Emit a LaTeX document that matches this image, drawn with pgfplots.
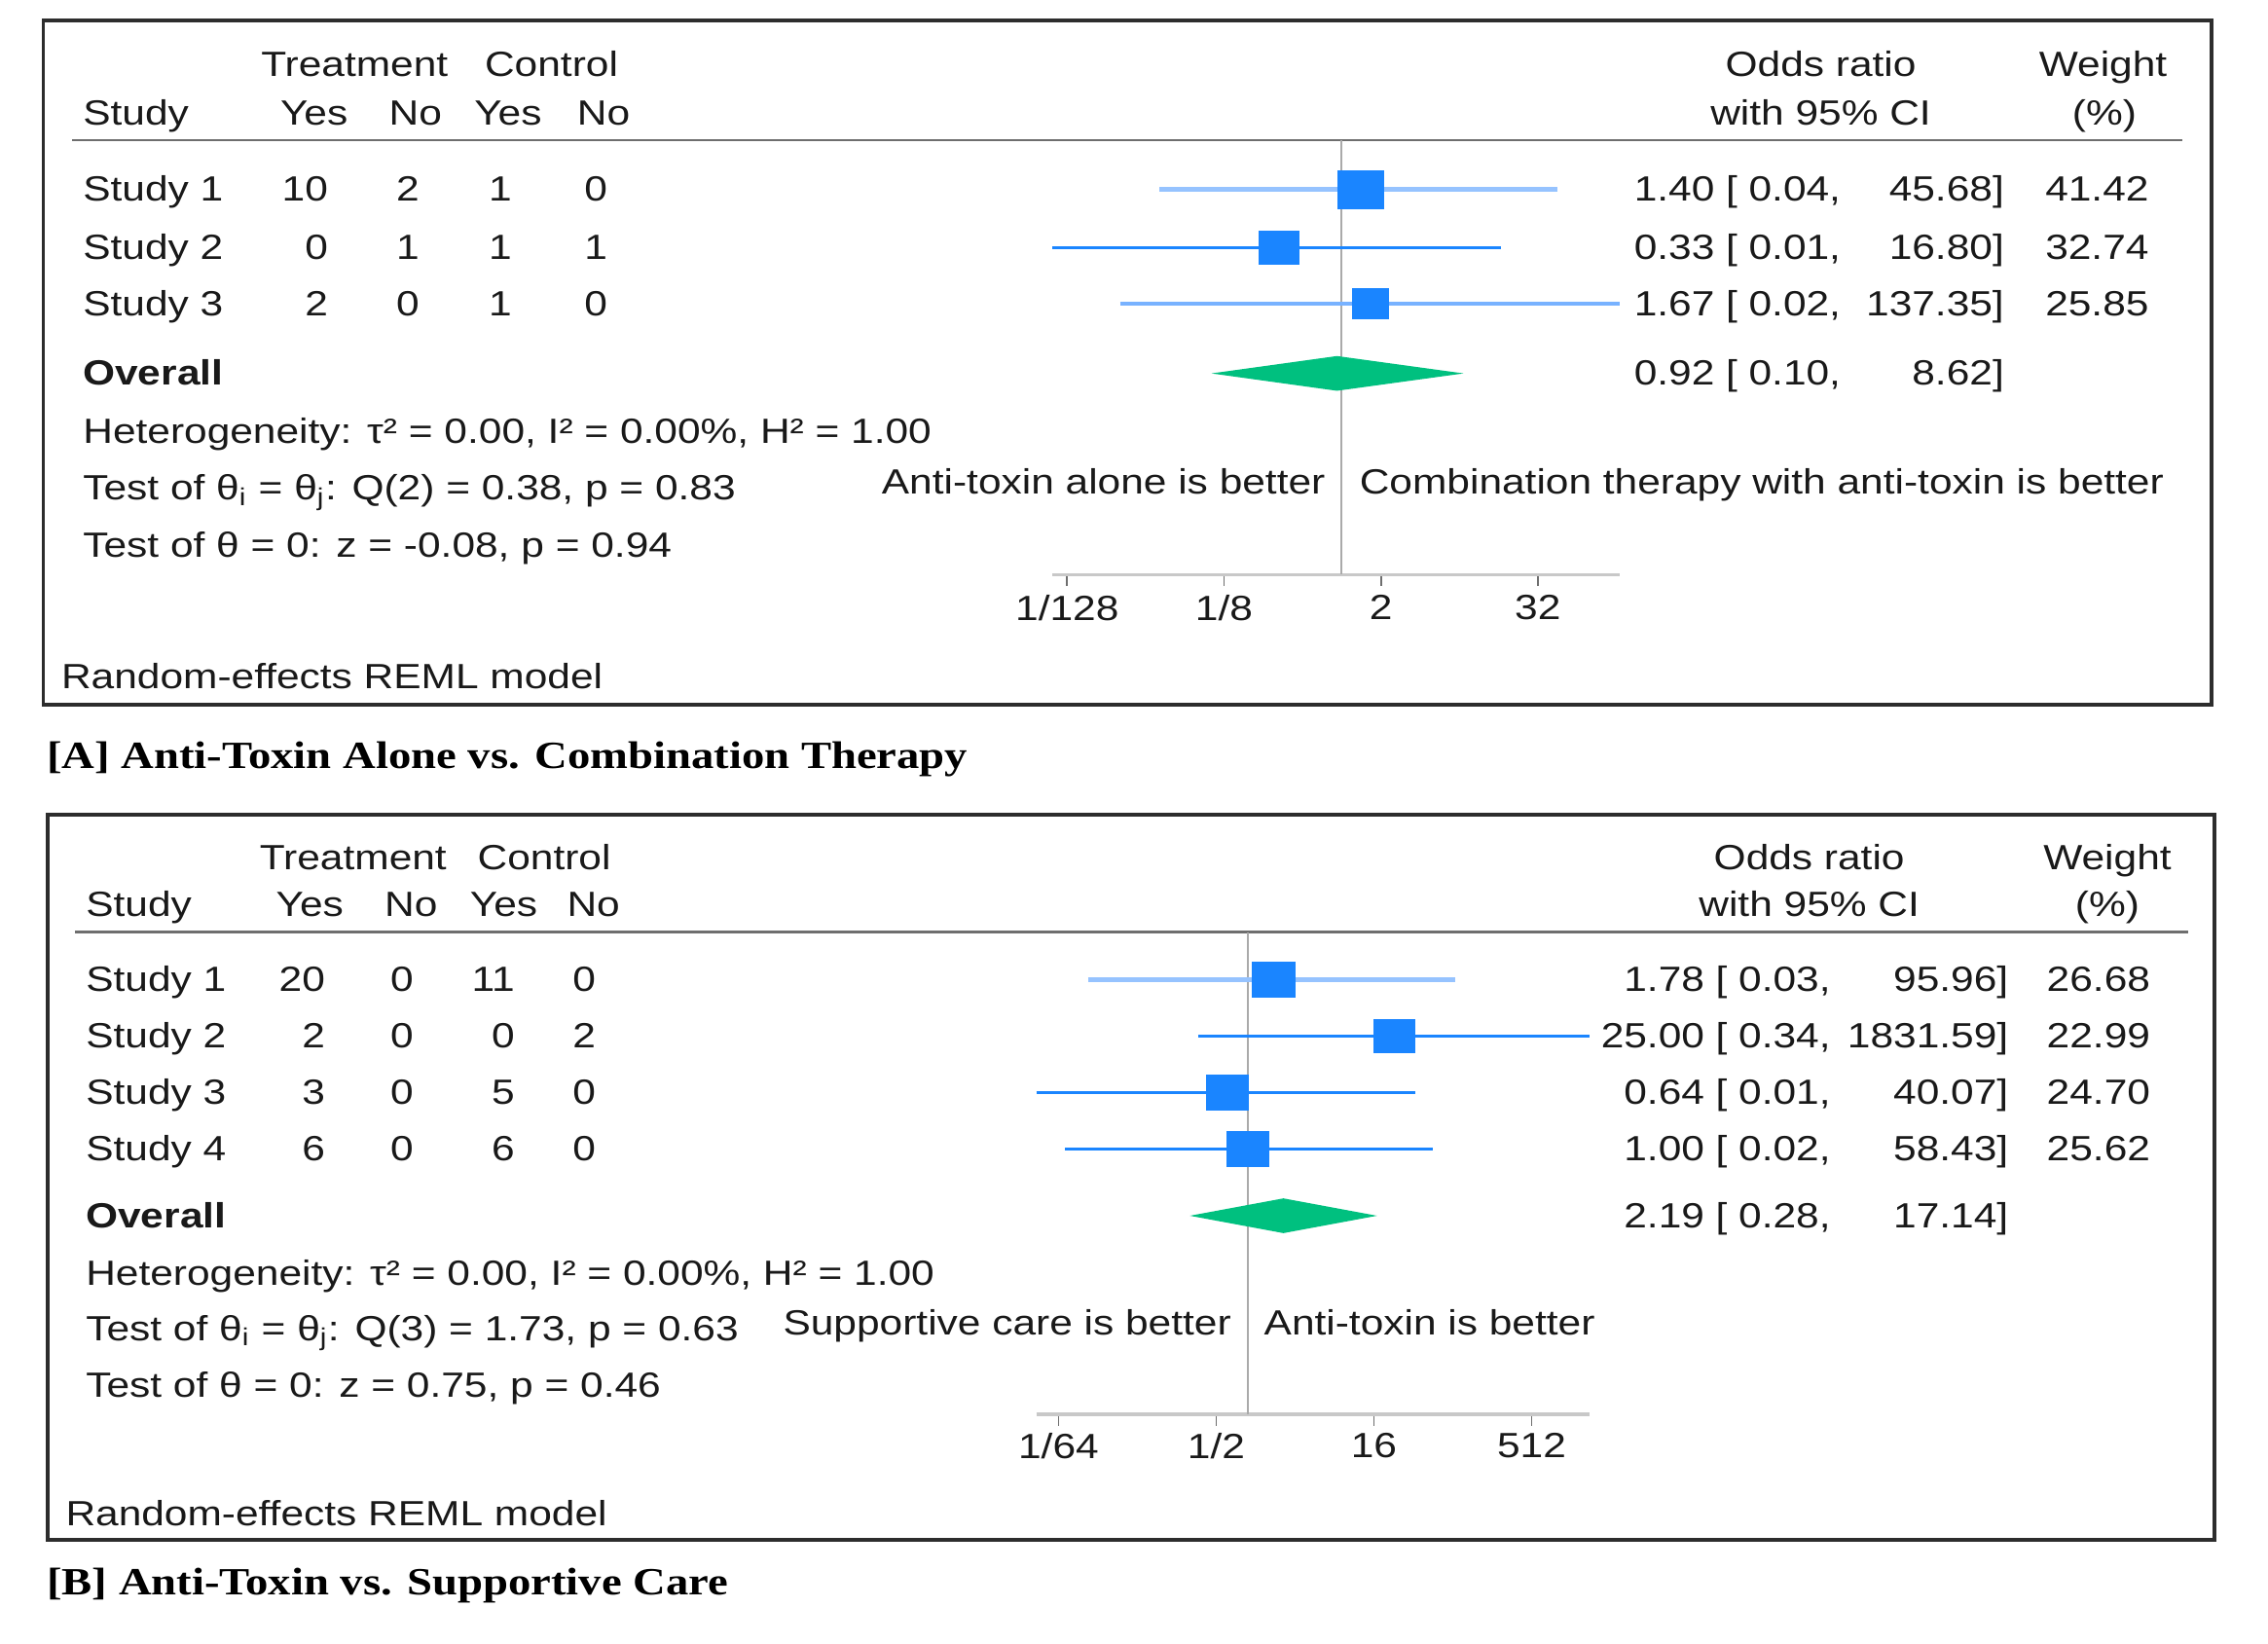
\documentclass[border=0pt]{standalone}
\usepackage{fontspec}
\setmainfont{Liberation Sans}[FakeStretch=1.18]
\newfontfamily\capfont{Liberation Serif}[FakeStretch=1.18]
\usepackage{pgfplots}
\pgfplotsset{compat=1.18}

\definecolor{stcblue}{RGB}{26,133,255}
\definecolor{cilight}{RGB}{150,195,255}
\definecolor{cimid}{RGB}{120,178,255}
\definecolor{stcgreen}{RGB}{0,192,127}
\definecolor{nullgray}{RGB}{170,170,170}
\definecolor{axisgray}{RGB}{200,200,200}
\definecolor{tickgray}{RGB}{110,110,110}
\definecolor{txt}{RGB}{25,25,25}
\definecolor{frame}{RGB}{45,45,45}

\newcommand\fs{\fontsize{12.1}{14}\selectfont}
\tikzset{t/.style={font=\fs, text=txt, inner sep=0pt, yshift=-1.4pt}}

\begin{document}
\begin{tikzpicture}[x=0.5pt, y=-0.5pt]
\path (0,0) rectangle (1567,1135.3);

% ---------------- Panel A ----------------
\draw[frame, line width=1.2pt] (30,14) rectangle (1528,487);
\draw[tickgray, line width=0.8pt] (50,97) -- (1508,97);

\begin{axis}[xmode=log, log basis x=2, scale only axis, clip=false,
    axis x line*=bottom, axis y line=none,
    axis line style={-},
    x axis line style={color=axisgray, line width=1.2pt},
    xtick style={color=tickgray, line width=0.6pt},
    tick align=outside, major tick length=4pt,
    xticklabel style={font=\fs, text=txt, inner sep=0pt, yshift=-3pt},
    anchor=south west,
    at={(363.5pt,-198.5pt)}, width=196.2pt, height=150pt,
    xmin=0.006, xmax=137.35, ymin=-397, ymax=-97,
    xtick={0.0078125,0.125,2,32}, xticklabels={1/128,1/8,2,32}]
  \addplot[nullgray, line width=0.75pt] coordinates {(1,-97) (1,-397)};
  \addplot[cilight, line width=1.6pt] coordinates {(0.04,-131) (45.68,-131)};
  \addplot[stcblue, line width=1pt] coordinates {(0.006,-171) (16.80,-171)};
  \addplot[cimid, line width=1.2pt] coordinates {(0.02,-210) (137.35,-210)};
  \addplot[stcblue, only marks, mark=square*, mark size=6.5pt,
    mark options={xscale=1.2}] coordinates {(1.40,-131)};
  \addplot[stcblue, only marks, mark=square*, mark size=5.7pt,
    mark options={xscale=1.2}] coordinates {(0.33,-171)};
  \addplot[stcblue, only marks, mark=square*, mark size=5.15pt,
    mark options={xscale=1.2}] coordinates {(1.67,-210)};
  \addplot[fill=stcgreen, draw=none] coordinates
    {(0.10,-258) (0.92,-246) (8.62,-258) (0.92,-270) (0.10,-258)};
\end{axis}

\node[t, anchor=mid] at (245,45) {Treatment};
\node[t, anchor=mid] at (381,45) {Control};
\node[t, anchor=mid] at (1258,45) {Odds ratio};
\node[t, anchor=mid] at (1453,45) {Weight};
\node[t, anchor=mid west] at (57,78) {Study};
\node[t, anchor=mid] at (217,78) {Yes};
\node[t, anchor=mid] at (287,78) {No};
\node[t, anchor=mid] at (351,78) {Yes};
\node[t, anchor=mid] at (417,78) {No};
\node[t, anchor=mid] at (1258,78) {with 95\% CI};
\node[t, anchor=mid] at (1454,78) {(\%)};

\foreach \y/\s/\a/\b/\c/\d/\o/\l/\u/\w in {
    131/1/10/2/1/0/1.40/0.04/45.68/41.42,
    171/2/0/1/1/1/0.33/0.01/16.80/32.74,
    210/3/2/0/1/0/1.67/0.02/137.35/25.85} {
  \node[t, anchor=mid west] at (57,\y) {Study \s};
  \node[t, anchor=mid east] at (227,\y) {\a};
  \node[t, anchor=mid east] at (290,\y) {\b};
  \node[t, anchor=mid east] at (354,\y) {\c};
  \node[t, anchor=mid east] at (420,\y) {\d};
  \node[t, anchor=mid east] at (1185,\y) {\o};
  \node[t, anchor=mid west] at (1192,\y) {[ \l,};
  \node[t, anchor=mid east] at (1385,\y) {\u]};
  \node[t, anchor=mid east] at (1485,\y) {\w};
}
\node[t, anchor=mid west, font=\fs\bfseries] at (57,258) {Overall};
\node[t, anchor=mid east] at (1185,258) {0.92};
\node[t, anchor=mid west] at (1192,258) {[ 0.10,};
\node[t, anchor=mid east] at (1385,258) {8.62]};
\node[t, anchor=mid west] at (57,298) {Heterogeneity: τ² = 0.00, I² = 0.00\%, H² = 1.00};
\node[t, anchor=mid west] at (57,337) {Test of θ\textsubscript{i} = θ\textsubscript{j}: Q(2) = 0.38, p = 0.83};
\node[t, anchor=mid west] at (57,377) {Test of θ = 0: z = -0.08, p = 0.94};
\node[t, anchor=mid east] at (916,333) {Anti-toxin alone is better};
\node[t, anchor=mid west] at (939,333) {Combination therapy with anti-toxin is better};
\node[t, anchor=mid west] at (42,468) {Random-effects REML model};
\node[anchor=mid west, inner sep=0pt, text=black, yshift=-1.4pt,
  font=\fontsize{13.3}{16}\capfont\bfseries] at (32,523)
  {[A] Anti-Toxin Alone vs. Combination Therapy};

% ---------------- Panel B ----------------
\draw[frame, line width=1.2pt] (33,563) rectangle (1530,1064);
\draw[tickgray, line width=0.8pt] (52,644) -- (1512,644);

\begin{axis}[xmode=log, log basis x=2, scale only axis, clip=false,
    axis x line*=bottom, axis y line=none,
    axis line style={-},
    x axis line style={color=axisgray, line width=1.2pt},
    xtick style={color=tickgray, line width=0.6pt},
    tick align=outside, major tick length=4pt,
    xticklabel style={font=\fs, text=txt, inner sep=0pt, yshift=-2.5pt},
    anchor=south west,
    at={(358pt,-488.5pt)}, width=191.15pt, height=166.5pt,
    xmin=0.0096, xmax=1831.59, ymin=-977, ymax=-644,
    xtick={0.015625,0.5,16,512}, xticklabels={1/64,1/2,16,512}]
  \addplot[nullgray, line width=0.75pt] coordinates {(1,-644) (1,-977)};
  \addplot[cilight, line width=1.6pt] coordinates {(0.03,-677) (95.96,-677)};
  \addplot[stcblue, line width=1pt] coordinates {(0.34,-716) (1831.59,-716)};
  \addplot[stcblue, line width=1pt] coordinates {(0.0096,-755) (40.07,-755)};
  \addplot[stcblue, line width=1pt] coordinates {(0.018,-794) (58.43,-794)};
  \addplot[stcblue, only marks, mark=square*, mark size=6.1pt,
    mark options={xscale=1.2}] coordinates {(1.78,-677)};
  \addplot[stcblue, only marks, mark=square*, mark size=5.8pt,
    mark options={xscale=1.2}] coordinates {(25.00,-716)};
  \addplot[stcblue, only marks, mark=square*, mark size=6.0pt,
    mark options={xscale=1.2}] coordinates {(0.64,-755)};
  \addplot[stcblue, only marks, mark=square*, mark size=6.05pt,
    mark options={xscale=1.2}] coordinates {(1.00,-794)};
  \addplot[fill=stcgreen, draw=none] coordinates
    {(0.28,-840) (2.19,-828) (17.14,-840) (2.19,-852) (0.28,-840)};
\end{axis}

\node[t, anchor=mid] at (244,593) {Treatment};
\node[t, anchor=mid] at (376,593) {Control};
\node[t, anchor=mid] at (1250,593) {Odds ratio};
\node[t, anchor=mid] at (1456,593) {Weight};
\node[t, anchor=mid west] at (59,625) {Study};
\node[t, anchor=mid] at (214,625) {Yes};
\node[t, anchor=mid] at (284,625) {No};
\node[t, anchor=mid] at (348,625) {Yes};
\node[t, anchor=mid] at (410,625) {No};
\node[t, anchor=mid] at (1250,625) {with 95\% CI};
\node[t, anchor=mid] at (1456,625) {(\%)};

\foreach \y/\s/\a/\b/\c/\d/\o/\l/\u/\w in {
    677/1/20/0/11/0/1.78/0.03/95.96/26.68,
    716/2/2/0/0/2/25.00/0.34/1831.59/22.99,
    755/3/3/0/5/0/0.64/0.01/40.07/24.70,
    794/4/6/0/6/0/1.00/0.02/58.43/25.62} {
  \node[t, anchor=mid west] at (59,\y) {Study \s};
  \node[t, anchor=mid east] at (225,\y) {\a};
  \node[t, anchor=mid east] at (286,\y) {\b};
  \node[t, anchor=mid east] at (356,\y) {\c};
  \node[t, anchor=mid east] at (412,\y) {\d};
  \node[t, anchor=mid east] at (1178,\y) {\o};
  \node[t, anchor=mid west] at (1185,\y) {[ \l,};
  \node[t, anchor=mid east] at (1388,\y) {\u]};
  \node[t, anchor=mid east] at (1486,\y) {\w};
}
\node[t, anchor=mid west, font=\fs\bfseries] at (59,840) {Overall};
\node[t, anchor=mid east] at (1178,840) {2.19};
\node[t, anchor=mid west] at (1185,840) {[ 0.28,};
\node[t, anchor=mid east] at (1388,840) {17.14]};
\node[t, anchor=mid west] at (59,880) {Heterogeneity: τ² = 0.00, I² = 0.00\%, H² = 1.00};
\node[t, anchor=mid west] at (59,918) {Test of θ\textsubscript{i} = θ\textsubscript{j}: Q(3) = 1.73, p = 0.63};
\node[t, anchor=mid west] at (59,957) {Test of θ = 0: z = 0.75, p = 0.46};
\node[t, anchor=mid east] at (851,914) {Supportive care is better};
\node[t, anchor=mid west] at (873,914) {Anti-toxin is better};
\node[t, anchor=mid west] at (45,1046) {Random-effects REML model};
\node[anchor=mid west, inner sep=0pt, text=black, yshift=-1.4pt,
  font=\fontsize{13.3}{16}\capfont\bfseries] at (32,1094)
  {[B] Anti-Toxin vs. Supportive Care};
\end{tikzpicture}
\end{document}
